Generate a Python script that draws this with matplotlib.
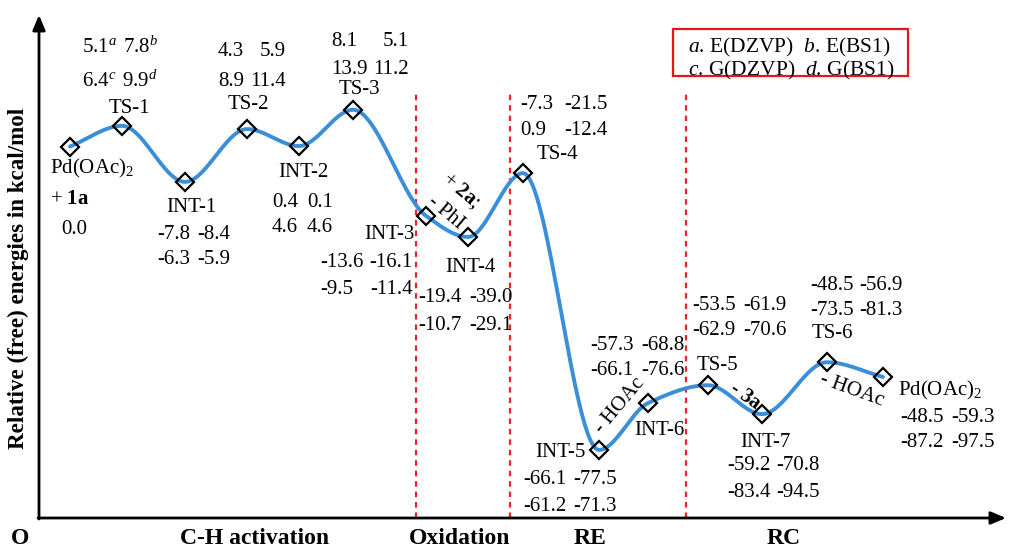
import numpy as np
import matplotlib
matplotlib.use('Agg')
import matplotlib.pyplot as plt
from matplotlib.patches import Rectangle

plt.rcParams['font.family'] = ['Liberation Serif', 'DejaVu Serif']
plt.rcParams['mathtext.fontset'] = 'custom'
plt.rcParams['mathtext.rm'] = 'Liberation Serif'
plt.rcParams['mathtext.it'] = 'Liberation Serif:italic'
plt.rcParams['mathtext.bf'] = 'Liberation Serif:bold'

# BEGIN: DATA #################################################################
states = ['Pd(OAc)$_2$', 'TS-1', 'INT-1', 'TS-2', 'INT-2', 'TS-3', 'INT-3',
          'INT-4', 'TS-4', 'INT-5', 'INT-6', 'TS-5', 'INT-7', 'TS-6',
          'Pd(OAc)$_2$']
# position along the reaction coordinate and drawn level (schematic)
rxn_coord = [3.1, 8.3, 14.6, 20.8, 26.0, 31.4, 38.7, 42.9, 48.4, 56.0,
             60.9, 66.9, 72.3, 78.8, 84.4]
level = [0.0, 4.5, -7.7, 3.8, 0.1, 8.0, -15.1, -19.7, -5.8, -66.1,
         -55.9, -52.0, -58.3, -47.0, -50.2]
# a. E(DZVP)  b. E(BS1)  c. G(DZVP)  d. G(BS1)
e_dzvp = [0.0, 5.1, -7.8, 4.3, 0.4, 8.1, -13.6, -19.4, -7.3, -66.1,
          -57.3, -53.5, -59.2, -48.5, -48.5]
e_bs1 = [None, 7.8, -8.4, 5.9, 0.1, 5.1, -16.1, -39.0, -21.5, -77.5,
         -68.8, -61.9, -70.8, -56.9, -59.3]
g_dzvp = [None, 6.4, -6.3, 8.9, 4.6, 13.9, -9.5, -10.7, 0.9, -61.2,
          -66.1, -62.9, -83.4, -73.5, -87.2]
g_bs1 = [None, 9.9, -5.9, 11.4, 4.6, 11.2, -11.4, -29.1, -12.4, -71.3,
         -76.6, -70.6, -94.5, -81.3, -97.5]
stage_names = ['C-H activation', 'Oxidation', 'RE', 'RC']
stage_bounds = [37.7, 47.1, 64.7]
steps = ['+ $\\mathbf{2a}$;', '- PhI', '- HOAc', '- $\\mathbf{3a}$', '- HOAc']
legend_rows = ['$a$. E(DZVP)  $b$. E(BS1)', '$c$. G(DZVP)  $d$. G(BS1)']
# END:   DATA #################################################################

W, H = 1010, 547
FS = 15
fig = plt.figure(figsize=(W / 100, H / 100), dpi=100)
ax = fig.add_axes([0, 0, 1, 1])
ax.set_xlim(-3.9, 97.1)
ax.set_ylim(-87.25, 31.92)
ax.axis('off')


def put(s, x, y, **kw):
    # place text by pixel position (origin top-left)
    kw.setdefault('fontsize', FS)
    kw.setdefault('va', 'center_baseline')
    fig.text(x / W, 1 - y / H, s, **kw)


def pchip(x, y, n=60):
    x = np.asarray(x, float)
    y = np.asarray(y, float)
    h = np.diff(x)
    d = np.diff(y) / h
    m = np.zeros_like(y)
    for k in range(1, len(x) - 1):
        if d[k - 1] * d[k] > 0:
            w1 = 2 * h[k] + h[k - 1]
            w2 = h[k] + 2 * h[k - 1]
            m[k] = (w1 + w2) / (w1 / d[k - 1] + w2 / d[k])
    m[0] = d[0]
    m[-1] = d[-1]
    xs, ys = [], []
    t = np.linspace(0, 1, n)
    for k in range(len(x) - 1):
        h00 = 2 * t**3 - 3 * t**2 + 1
        h10 = t**3 - 2 * t**2 + t
        h01 = -2 * t**3 + 3 * t**2
        h11 = t**3 - t**2
        xs.append(x[k] + t * h[k])
        ys.append(h00 * y[k] + h10 * h[k] * m[k] + h01 * y[k + 1]
                  + h11 * h[k] * m[k + 1])
    return np.concatenate(xs), np.concatenate(ys)


# stage separators
y_top = (146.5 - 93) / 4.59
y_bot = (146.5 - 518) / 4.59
ax.vlines(stage_bounds, y_bot, y_top, colors='#e8262a', lw=1.6,
          linestyles=(0, (2.5, 2.2)), zorder=1)

# profile
cx, cy = pchip(rxn_coord, level)
ax.plot(cx, cy, color='#3a8fd8', lw=2.8, solid_capstyle='round', zorder=2)
ax.plot(rxn_coord, level, 'D', ms=9.5, mfc='none', mec='black', mew=1.6,
        zorder=3)

# axes arrows
arrow = dict(arrowstyle='-|>,head_length=0.9,head_width=0.38', lw=2,
             color='black', shrinkA=0, shrinkB=0)
ax.annotate('', xy=(39, H - 15), xytext=(39, H - 519),
            xycoords='figure pixels', arrowprops=arrow)
ax.annotate('', xy=(1006, H - 518), xytext=(38, H - 518),
            xycoords='figure pixels', arrowprops=arrow)

put('O', 20, 536, ha='center', fontsize=17, weight='bold')
put('Relative (free) energies in kcal/mol', 18, 278, ha='center',
    va='center', rotation=90, fontsize=16.6, weight='bold')
for name, xp in zip(stage_names, [255, 460, 590, 784]):
    put(name, xp, 536, ha='center', fontsize=17, weight='bold')

# state names (x, y, ha)
name_pos = [(50, 165, 'left'), (129, 106, 'center'), (191, 205, 'center'),
            (248, 102, 'center'), (303, 170, 'center'), (359, 87, 'center'),
            (389, 232, 'center'), (470, 265, 'center'), (557, 152, 'center'),
            (586, 450, 'right'), (659, 428, 'center'), (717, 363, 'center'),
            (765, 440, 'center'), (832, 331, 'center'), (898, 387, 'left')]
for name, (xp, yp, ha) in zip(states, name_pos):
    put(name, xp, yp, ha=ha)
put('+ $\\mathbf{1a}$', 50, 197, ha='left')

# energy blocks: col1 left edge, col2 right edge, row1 y, row2 y
val_pos = [(74, None, 227, None), (82, 158, 45, 79), (157, 230, 232, 257),
           (218, 286, 49, 79), (272, 333, 200, 225), (331, 409, 39, 67),
           (320, 413, 260, 287), (418, 513, 295, 323), (520, 608, 102, 128),
           (523, 617, 477, 504), (590, 685, 343, 368), (692, 787, 303, 328),
           (727, 820, 463, 490), (810, 903, 283, 308), (900, 995, 415, 440)]
for i, (x1, x2, y1, y2) in enumerate(val_pos):
    if e_bs1[i] is None:
        put(f'{e_dzvp[i]:.1f}', x1, y1, ha='center')
        continue
    sup = ['$^{a}$', '$^{b}$', '$^{c}$', '$^{d}$'] if i == 1 else [''] * 4
    put(f'{e_dzvp[i]:.1f}' + sup[0], x1, y1, ha='left')
    put(f'{e_bs1[i]:.1f}' + sup[1], x2, y1, ha='right')
    put(f'{g_dzvp[i]:.1f}' + sup[2], x1, y2, ha='left')
    put(f'{g_bs1[i]:.1f}' + sup[3], x2, y2, ha='right')

# step annotations along the path
step_pos = [(461, 191, -40), (446, 213, -40), (620, 406, 50),
            (745, 397, -35), (852, 390, -20)]
for s, (xp, yp, rot) in zip(steps, step_pos):
    put(s, xp, yp, ha='center', va='center', rotation=rot,
        rotation_mode='anchor')

# legend box
fig.patches.append(Rectangle((673 / W, 1 - 76 / H), 235 / W, 47 / H,
                             transform=fig.transFigure, fill=False,
                             edgecolor='#e8131b', lw=1.6))
put(legend_rows[0], 688, 44, ha='left', fontsize=15.5)
put(legend_rows[1], 688, 67, ha='left', fontsize=15.5)

fig.savefig('out.png', dpi=100)
